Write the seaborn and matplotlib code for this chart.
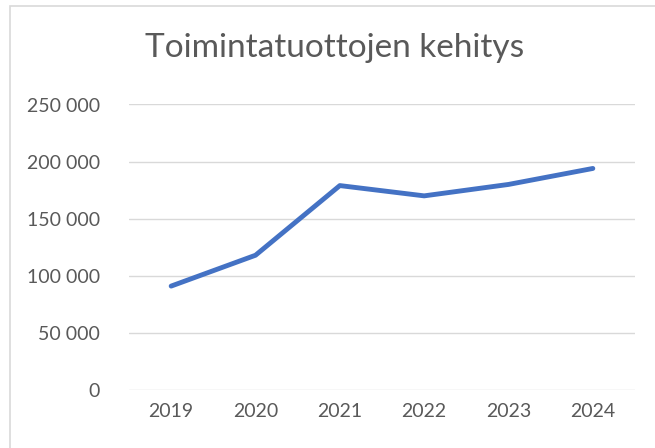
import matplotlib
matplotlib.use("Agg")
import matplotlib.pyplot as plt
import matplotlib.ticker as mticker
from matplotlib.patches import Rectangle
import seaborn as sns
import pandas as pd

# data
vuodet = ["2019", "2020", "2021", "2022", "2023", "2024"]
tuotot = [91000, 118000, 179000, 170000, 180000, 194000]
y_ticks = [0, 50000, 100000, 150000, 200000, 250000]

df = pd.DataFrame({"vuosi": vuodet, "tuotot": tuotot})

sns.set_theme(style="white")
plt.rcParams["font.family"] = ["Lato", "DejaVu Sans"]

text_col = "#595959"
grid_col = "#d9d9d9"

fig = plt.figure(figsize=(6.55, 4.48), dpi=100)
ax = fig.add_axes([129 / 655, 1 - 390 / 448, (635 - 129) / 655, (390 - 104.5) / 448])

sns.lineplot(data=df, x="vuosi", y="tuotot", ax=ax, color="#4472C4",
             linewidth=3.5, solid_capstyle="round", solid_joinstyle="round", sort=False)

ax.set_xlim(-0.5, len(vuodet) - 0.5)
ax.set_ylim(0, 250000)
ax.set_yticks(y_ticks)
ax.yaxis.set_major_formatter(mticker.FuncFormatter(lambda v, p: f"{v:,.0f}".replace(",", " ")))
ax.grid(axis="y", color=grid_col, linewidth=1.0)
ax.set_axisbelow(True)
for s in ax.spines.values():
    s.set_visible(False)
ax.tick_params(axis="both", length=0, labelsize=14, colors=text_col)
ax.tick_params(axis="y", pad=21)
ax.tick_params(axis="x", pad=9)
ax.set_xlabel("")
ax.set_ylabel("")

fig.text(335 / 655, 1 - 48 / 448, "Toimintatuottojen kehitys", ha="center", va="center",
         fontsize=24, color=text_col)

# chart border (cropped at right and bottom in the reference)
fig.patches.append(Rectangle((10 / 655, -0.1), 1.2, 1 - 6 / 448 + 0.1,
                             transform=fig.transFigure, fill=False,
                             edgecolor=grid_col, linewidth=1.2))

fig.savefig("out.png", dpi=100)
